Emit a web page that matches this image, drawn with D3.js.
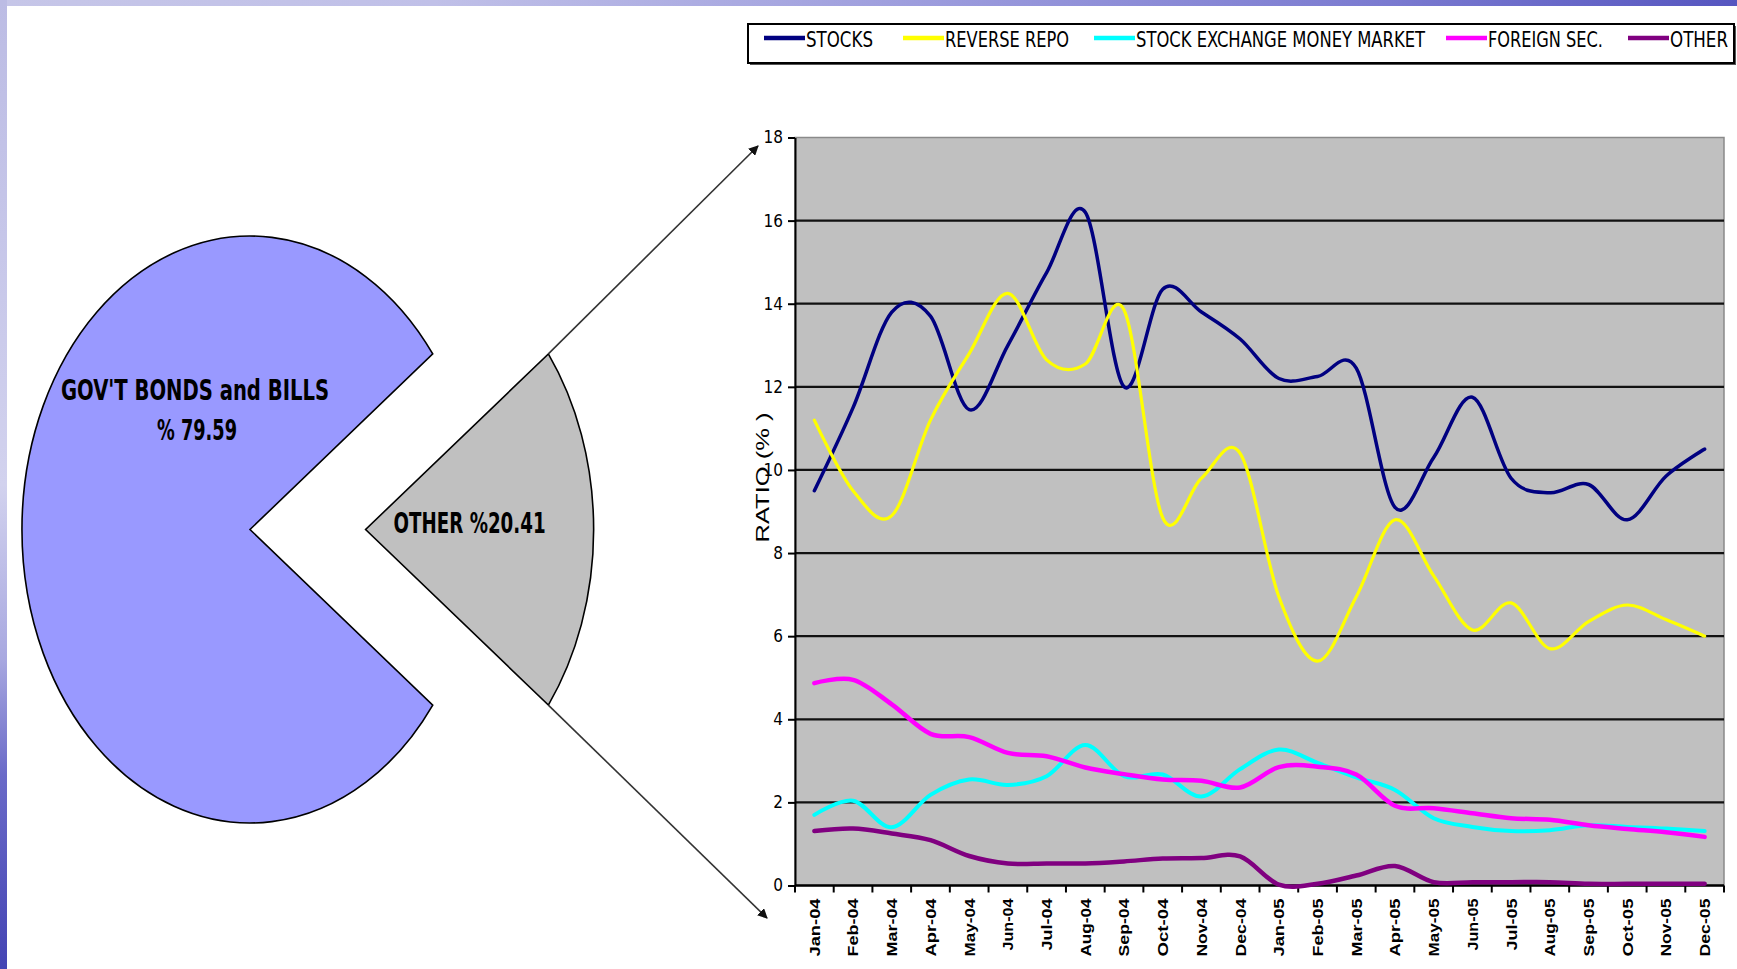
<!DOCTYPE html>
<html>
<head>
<meta charset="utf-8">
<script src="https://cdn.jsdelivr.net/npm/d3@7"></script>
<style>
  html, body { margin: 0; padding: 0; background: #fff; }
  svg { display: block; }
</style>
</head>
<body>
<svg id="chart" width="1737" height="969"></svg>
<script>
// ---- data ----
const months = ["Jan-04","Feb-04","Mar-04","Apr-04","May-04","Jun-04","Jul-04","Aug-04","Sep-04","Oct-04","Nov-04","Dec-04",
                "Jan-05","Feb-05","Mar-05","Apr-05","May-05","Jun-05","Jul-05","Aug-05","Sep-05","Oct-05","Nov-05","Dec-05"];
const seriesNames = ["STOCKS","REVERSE REPO","STOCK EXCHANGE MONEY MARKET","FOREIGN SEC.","OTHER"];
const stocks      = [9.5, 11.5, 13.8, 13.7, 11.45, 13.0, 14.75, 16.2, 12.0, 14.35, 13.8, 13.15, 12.2, 12.25, 12.45, 9.1, 10.3, 11.75, 9.8, 9.45, 9.65, 8.8, 9.85, 10.5];
const reverseRepo = [11.2, 9.5, 8.9, 11.2, 12.8, 14.25, 12.65, 12.55, 13.85, 8.85, 9.8, 10.4, 6.95, 5.4, 6.95, 8.8, 7.45, 6.15, 6.8, 5.7, 6.35, 6.75, 6.4, 6.0];
const exchangeMM  = [1.7, 2.04, 1.4, 2.18, 2.55, 2.42, 2.63, 3.38, 2.63, 2.67, 2.14, 2.8, 3.27, 2.95, 2.6, 2.3, 1.62, 1.41, 1.31, 1.33, 1.45, 1.41, 1.37, 1.31];
const foreignSec  = [4.87, 4.95, 4.36, 3.65, 3.57, 3.19, 3.11, 2.84, 2.68, 2.55, 2.52, 2.36, 2.85, 2.86, 2.67, 1.92, 1.86, 1.74, 1.62, 1.58, 1.45, 1.36, 1.28, 1.17];
const otherSeries = [1.31, 1.37, 1.25, 1.09, 0.71, 0.53, 0.53, 0.53, 0.58, 0.65, 0.66, 0.7, 0.02, 0.04, 0.24, 0.47, 0.08, 0.08, 0.08, 0.08, 0.04, 0.04, 0.04, 0.04];
const yTicks = [0, 2, 4, 6, 8, 10, 12, 14, 16, 18];
const pieNames  = ["GOV'T BONDS and BILLS", "OTHER"];
const pieValues = [79.59, 20.41];

// ---- styling ----
const colors = ["#000080", "#ffff00", "#00ffff", "#ff00ff", "#800080"];
const widths = [3.5, 3.2, 4, 4.5, 4.5];
const narrow = "'Liberation Sans Narrow','Arial Narrow','DejaVu Sans Condensed',sans-serif";
const sans = "'Liberation Sans',Arial,sans-serif";

const svg = d3.select("#chart");
const defs = svg.append("defs");

// slide frame: gradient strips along the top and left edge
const gTop = defs.append("linearGradient").attr("id", "frameTop").attr("x1", 0).attr("x2", 1).attr("y1", 0).attr("y2", 0);
[["0", "#c6c6e8"], ["0.25", "#c0c0e8"], ["0.55", "#9a9adc"], ["0.8", "#7a7ad0"], ["1", "#5656c0"]]
  .forEach(([o, c]) => gTop.append("stop").attr("offset", o).attr("stop-color", c));
const gLeft = defs.append("linearGradient").attr("id", "frameLeft").attr("x1", 0).attr("x2", 0).attr("y1", 0).attr("y2", 1);
[["0", "#bcbce4"], ["0.2", "#c4c4e8"], ["0.5", "#d2d2ee"], ["0.68", "#a8a8e0"], ["0.8", "#6a6ac8"], ["1", "#4444b4"]]
  .forEach(([o, c]) => gLeft.append("stop").attr("offset", o).attr("stop-color", c));
svg.append("rect").attr("x", 0).attr("y", 0).attr("width", 1737).attr("height", 6).attr("fill", "url(#frameTop)");
svg.append("rect").attr("x", 0).attr("y", 0).attr("width", 7).attr("height", 969).attr("fill", "url(#frameLeft)");

// arrow marker
defs.append("marker").attr("id", "arrow").attr("viewBox", "0 0 10 10")
  .attr("refX", 9).attr("refY", 5).attr("markerWidth", 10).attr("markerHeight", 10)
  .attr("markerUnits", "userSpaceOnUse").attr("orient", "auto")
  .append("path").attr("d", "M0,0 L10,5 L0,10 Z").attr("fill", "#111");

// ---- exploded pie ----
const pieCx = 250, pieCy = 529.5, pieR = 293.5, squeeze = 0.777, explode = 115.6;
const otherAngle = 2 * Math.PI * pieValues[1] / d3.sum(pieValues);
const arcs = d3.pie().sort(null)
  .startAngle(Math.PI / 2 + otherAngle / 2)
  .endAngle(Math.PI / 2 + otherAngle / 2 + 2 * Math.PI)(pieValues);
const arc = d3.arc().innerRadius(0).outerRadius(pieR);
const pieFill = ["#9999ff", "#c0c0c0"];

svg.append("g").selectAll("path").data(arcs).join("path")
  .attr("transform", (d, i) => `translate(${pieCx + (i === 1 ? explode : 0)},${pieCy}) scale(${squeeze},1)`)
  .attr("d", arc)
  .attr("fill", (d, i) => pieFill[i])
  .attr("stroke", "#000").attr("stroke-width", 1.6)
  .attr("vector-effect", "non-scaling-stroke");

// pie labels
const fmt = d3.format(".2f");
const pl = svg.append("g").attr("font-family", narrow).attr("font-weight", "bold")
  .attr("font-size", 28).attr("fill", "#000").attr("text-anchor", "middle");
pl.append("text").attr("x", pieCx - 55).attr("y", pieCy - 130).attr("textLength", 268)
  .attr("lengthAdjust", "spacingAndGlyphs").text(pieNames[0]);
pl.append("text").attr("x", pieCx - 53).attr("y", pieCy - 90).attr("textLength", 80)
  .attr("lengthAdjust", "spacingAndGlyphs").text("% " + fmt(pieValues[0]));
pl.append("text").attr("x", pieCx + explode + 104).attr("y", pieCy + 3).attr("textLength", 152)
  .attr("lengthAdjust", "spacingAndGlyphs").text(pieNames[1] + " %" + fmt(pieValues[1]));

// ---- line chart ----
const plot = { left: 795, right: 1724, top: 137.5, bottom: 885.5 };
const x = d3.scaleBand().domain(months).range([plot.left, plot.right]).paddingInner(0).paddingOuter(0);
const cx = m => x(m) + x.bandwidth() / 2;
const y = d3.scaleLinear().domain([0, 18]).range([plot.bottom, plot.top]);

// arrows from the detached slice's arc ends toward the top and bottom of the line chart
const o = arcs[1];
const edgePt = a => [pieCx + explode + Math.sin(a) * pieR * squeeze, pieCy - Math.cos(a) * pieR];
const arrowTargets = [[758, 146], [767, 918]];
[o.startAngle, o.endAngle].forEach((a, i) => {
  const p = edgePt(a);
  svg.append("line").attr("x1", p[0]).attr("y1", p[1])
    .attr("x2", arrowTargets[i][0]).attr("y2", arrowTargets[i][1])
    .attr("stroke", "#333").attr("stroke-width", 1.6).attr("marker-end", "url(#arrow)");
});

// plot background
svg.append("rect").attr("x", plot.left).attr("y", plot.top)
  .attr("width", plot.right - plot.left).attr("height", plot.bottom - plot.top)
  .attr("fill", "#c0c0c0").attr("stroke", "#8a8a8a").attr("stroke-width", 1.5);

// horizontal gridlines
svg.append("g").selectAll("line").data(yTicks.filter(t => t > 0 && t < 18)).join("line")
  .attr("x1", plot.left).attr("x2", plot.right)
  .attr("y1", d => y(d)).attr("y2", d => y(d))
  .attr("stroke", "#111").attr("stroke-width", 2.2);

// y axis
const yAxis = svg.append("g").attr("transform", `translate(${plot.left},0)`)
  .call(d3.axisLeft(y).tickValues(yTicks).tickSize(7).tickPadding(5).tickSizeOuter(0));
yAxis.select(".domain").attr("stroke", "#000").attr("stroke-width", 2);
yAxis.selectAll(".tick line").attr("stroke", "#000").attr("stroke-width", 2);
yAxis.selectAll(".tick text").attr("font-family", narrow).attr("font-size", 17).attr("fill", "#000");

// y title
svg.append("text").attr("transform", `translate(769,${(plot.top + plot.bottom) / 2 - 34}) rotate(-90)`)
  .attr("text-anchor", "middle").attr("font-family", sans).attr("font-size", 18)
  .attr("textLength", 130).attr("lengthAdjust", "spacingAndGlyphs")
  .attr("fill", "#000").text("RATIO (% )");

// x axis: baseline, ticks between categories, rotated month labels
svg.append("line").attr("x1", plot.left).attr("x2", plot.right)
  .attr("y1", plot.bottom).attr("y2", plot.bottom).attr("stroke", "#000").attr("stroke-width", 2.4);
const tickPos = months.map(m => x(m)).concat([plot.right]);
svg.append("g").selectAll("line").data(tickPos).join("line")
  .attr("x1", d => d).attr("x2", d => d)
  .attr("y1", plot.bottom).attr("y2", plot.bottom + 7)
  .attr("stroke", "#000").attr("stroke-width", 2);
svg.append("g").selectAll("text").data(months).join("text")
  .attr("transform", d => `translate(${cx(d)},${plot.bottom + 13}) rotate(-90)`)
  .attr("dy", "0.36em").attr("text-anchor", "end")
  .attr("font-family", sans).attr("font-weight", "bold").attr("font-size", 15)
  .attr("textLength", d => d.startsWith("Jul") || d.startsWith("Jun") ? 52 : 58)
  .attr("lengthAdjust", "spacingAndGlyphs")
  .attr("fill", "#000").text(d => d);

// series lines
const allSeries = [stocks, reverseRepo, exchangeMM, foreignSec, otherSeries];
const line = d3.line().x((d, i) => cx(months[i])).y(d => y(d)).curve(d3.curveCardinal.tension(0));
svg.append("g").selectAll("path").data(allSeries).join("path")
  .attr("d", d => line(d))
  .attr("fill", "none")
  .attr("stroke", (d, i) => colors[i])
  .attr("stroke-width", (d, i) => widths[i])
  .attr("stroke-linejoin", "round").attr("stroke-linecap", "round");

// ---- legend ----
const legend = svg.append("g");
legend.append("rect").attr("x", 750).attr("y", 26).attr("width", 986).attr("height", 39).attr("fill", "#555");
legend.append("rect").attr("x", 748).attr("y", 24).attr("width", 986).attr("height", 39)
  .attr("fill", "#fff").attr("stroke", "#000").attr("stroke-width", 2);
const legendX = [764, 903, 1094, 1446, 1628];
const legendTextW = [67, 124, 289, 115, 58];
const items = legend.selectAll("g.item").data(seriesNames).join("g").attr("class", "item")
  .attr("transform", (d, i) => `translate(${legendX[i]},0)`);
items.append("line").attr("x1", 0).attr("x2", 41).attr("y1", 38).attr("y2", 38)
  .attr("stroke", (d, i) => colors[i]).attr("stroke-width", 4.5);
items.append("text").attr("x", 42).attr("y", 46.5)
  .attr("font-family", narrow).attr("font-size", 21).attr("fill", "#000")
  .attr("textLength", (d, i) => legendTextW[i]).attr("lengthAdjust", "spacingAndGlyphs")
  .text(d => d);
</script>
</body>
</html>
